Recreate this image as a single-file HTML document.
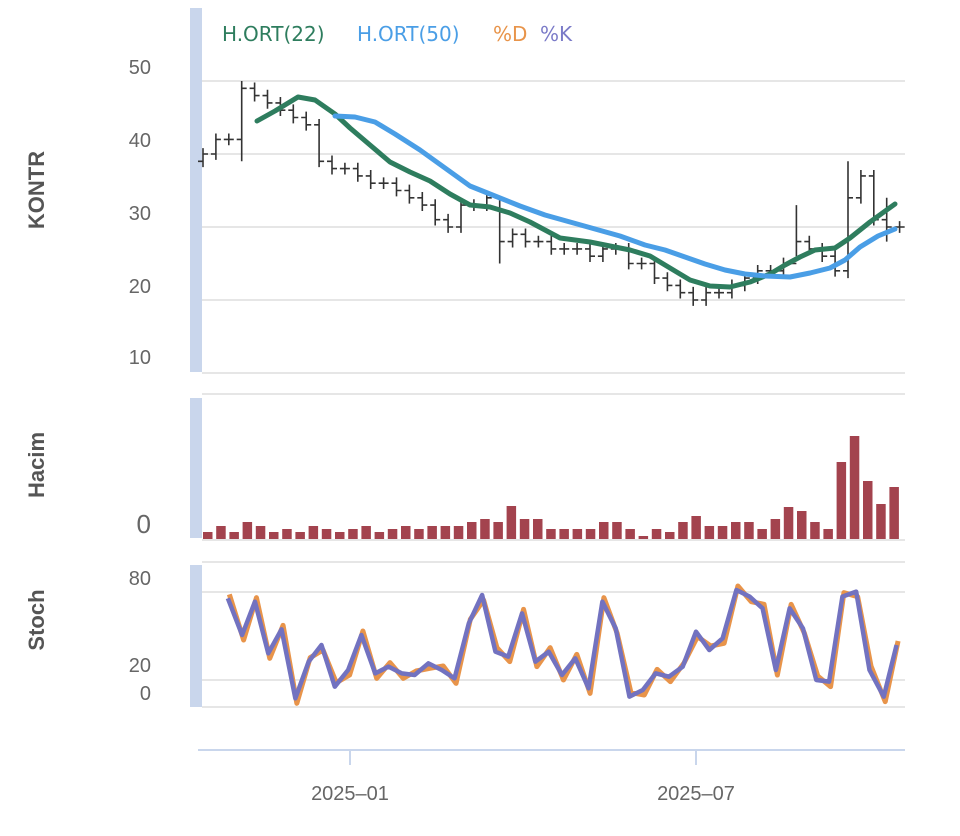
<!DOCTYPE html>
<html><head><meta charset="utf-8"><style>
body{margin:0;background:#fff;}
svg{display:block;font-family:"Liberation Sans",sans-serif;}
</style></head><body>
<svg id="s" width="960" height="836" viewBox="0 0 960 836">
<rect width="960" height="836" fill="#fff"/>
<g stroke="#e6e6e6" stroke-width="2">
<line x1="202" x2="905" y1="81" y2="81"/><line x1="202" x2="905" y1="154" y2="154"/>
<line x1="202" x2="905" y1="227" y2="227"/><line x1="202" x2="905" y1="300" y2="300"/>
<line x1="202" x2="905" y1="373" y2="373"/>
<line x1="202" x2="905" y1="394" y2="394"/><line x1="202" x2="905" y1="540" y2="540"/>
<line x1="202" x2="905" y1="562" y2="562"/><line x1="202" x2="905" y1="592" y2="592"/>
<line x1="202" x2="905" y1="680" y2="680"/><line x1="202" x2="905" y1="707" y2="707"/>
</g>
<rect x="190" y="8" width="12" height="364" fill="#c9d6ec"/>
<rect x="190" y="398" width="12" height="140" fill="#c9d6ec"/>
<rect x="190" y="565" width="12" height="142" fill="#c9d6ec"/>
<line x1="198" x2="905" y1="750" y2="750" stroke="#c9d6ec" stroke-width="2"/>
<line x1="350" x2="350" y1="750" y2="765" stroke="#c9d6ec" stroke-width="2"/>
<line x1="696" x2="696" y1="750" y2="765" stroke="#c9d6ec" stroke-width="2"/>
<g fill="#666" font-size="20" text-anchor="end">
<text x="151" y="74">50</text><text x="151" y="147">40</text><text x="151" y="220">30</text>
<text x="151" y="293">20</text><text x="151" y="364">10</text>
<text x="151" y="533" font-size="26">0</text>
<text x="151" y="585">80</text><text x="151" y="672">20</text><text x="151" y="700">0</text>
</g>
<g fill="#555" font-size="22" font-weight="bold" text-anchor="middle">
<text transform="translate(44,190) rotate(-90)">KONTR</text>
<text transform="translate(44,465) rotate(-90)">Hacim</text>
<text transform="translate(44,620) rotate(-90)">Stoch</text>
</g>
<g fill="#666" font-size="20" text-anchor="middle">
<text x="350" y="800">2025–01</text><text x="696" y="800">2025–07</text>
</g>
<g font-size="20" font-family="DejaVu Sans, sans-serif">
<text x="222" y="41" fill="#2e7d5e">H.ORT(22)</text>
<text x="357" y="41" fill="#4a9ee6">H.ORT(50)</text>
<text x="493" y="41" fill="#e8944a">%D</text>
<text x="540" y="41" fill="#7b7bc8">%K</text>
</g>
<g id="ohlc" stroke="#333" stroke-width="1.6" fill="none"></g>
<g id="vol" fill="#a3434e"></g>
<polyline fill="none" stroke="#2e7d5e" stroke-width="5" stroke-linecap="round" stroke-linejoin="round" points="257,121 275,111 298,97 315,100 335,114 350,128 370,145 390,162 410,172 430,181 450,194 470,205 490,207 510,213 530,222 560,238 590,242 610,246 630,250 650,256 670,268 690,280 710,286 730,287 750,282 770,274 785,265 800,257 815,250 835,248 850,238 870,222 895,204"/>
<polyline fill="none" stroke="#4a9ee6" stroke-width="5" stroke-linecap="round" stroke-linejoin="round" points="335,116 355,117 375,122 395,134 420,150 445,168 470,186 495,196 520,206 545,215 570,222 595,229 620,236 645,245 665,250 685,257 705,264 725,270 745,274 765,276 790,277 810,273 830,268 845,260 860,247 878,236 895,229"/>
<polyline id="d" fill="none" stroke="#e8944a" stroke-width="5" stroke-linejoin="round"/>
<polyline id="k" fill="none" stroke="#7272c0" stroke-width="4.5" stroke-linejoin="round"/>
</svg>
<script>
var ns="http://www.w3.org/2000/svg";
var c=[40,42,42,49,48,47,46,45,44,39,38,38,37,36,36,35,34,33,31,30,33,33,34,28,29,28,28,27,27,27,26,27,27,25,25,23,22,21,20,21,21,22,23,24,24,25,28,27,26,24,34,37,31,30,30];
var ex={3:[39,50],23:[25,34],46:[26,33],50:[23,39],53:[28,34]};
var g=document.getElementById('ohlc');
function py(p){return 373-(p-10)*7.3;}
for(var i=0;i<c.length;i++){
 var x=203+i*12.9,o=i?c[i-1]:39,cl=c[i];
 var hi=Math.max(o,cl)+0.8,lo=Math.min(o,cl)-0.8;
 if(ex[i]){lo=ex[i][0];hi=ex[i][1];}
 var p=document.createElementNS(ns,'path');
 p.setAttribute('d','M'+x+' '+py(hi)+'V'+py(lo)+'M'+(x-5)+' '+py(o)+'H'+x+'M'+x+' '+py(cl)+'H'+(x+5));
 g.appendChild(p);
}
var v=[7,13,7,17,13,7,10,7,13,10,7,10,13,7,10,13,10,13,13,13,17,20,17,33,20,20,10,10,10,10,17,17,10,3,10,7,17,23,13,13,17,17,10,20,32,28,17,10,77,103,58,35,52];
var vg=document.getElementById('vol');
for(var i=0;i<v.length;i++){var r=document.createElementNS(ns,'rect');var x=203+i*13.2;
r.setAttribute('x',x);r.setAttribute('width',9.5);r.setAttribute('y',539-v[i]);r.setAttribute('height',v[i]);vg.appendChild(r);}
var kz=[[105,655],[135,765],[162,665],[190,820],[218,748],[247,955],[275,845],[302,795],[330,920],[358,870],[386,765],[415,880],[443,860],[471,880],[498,885],[527,850],[555,870],[582,895],[612,730],[640,645],[668,815],[695,830],[724,700],[752,845],[780,815],[808,885],[836,835],[864,925],[893,665],[921,745],[950,950],[978,930],[1005,880],[1033,890],[1062,860],[1090,755],[1118,810],[1146,775],[1175,630],[1203,650],[1230,685],[1258,870],[1287,685],[1315,745],[1343,900],[1370,905],[1398,650],[1427,635],[1455,870],[1485,950],[1512,795]];
var kp=[],dp=[];
kz.forEach(function(a,i){var x=350+(a[0]-362)/2.104,y=380+a[1]/3;kp.push(x+','+y);
 var dy=y+(i%2?5:-4);dp.push((x+1.5)+','+dy);});
document.getElementById('k').setAttribute('points',kp.join(' '));
document.getElementById('d').setAttribute('points',dp.join(' '));
</script>
</body></html>
